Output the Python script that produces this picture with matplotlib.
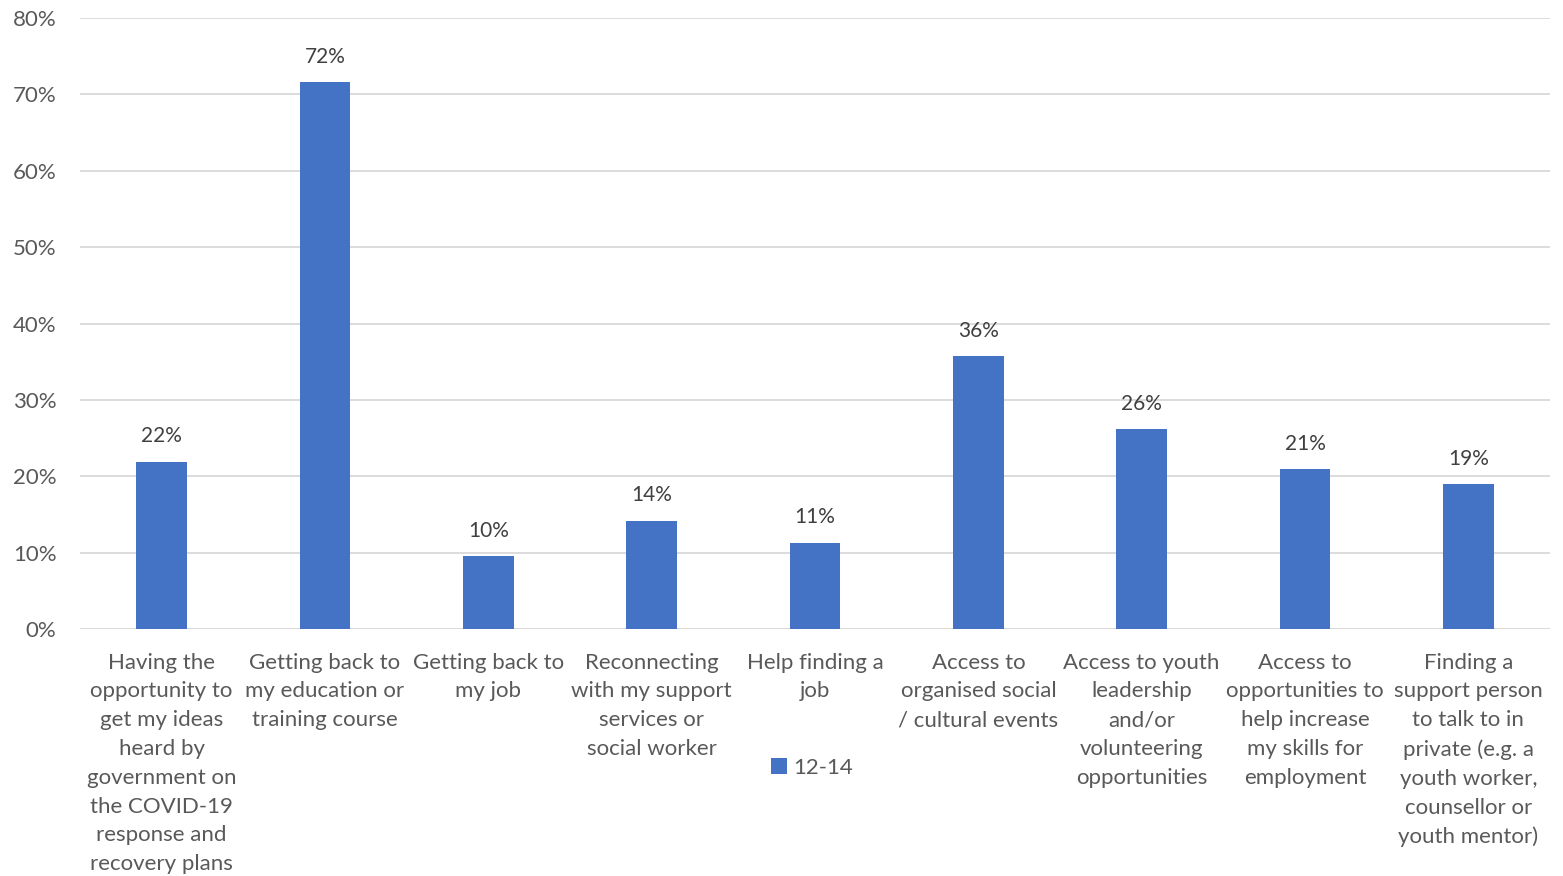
import matplotlib
matplotlib.use("Agg")
import matplotlib.pyplot as plt
from matplotlib.ticker import FuncFormatter, MultipleLocator

categories = [
    "Having the\nopportunity to\nget my ideas\nheard by\ngovernment on\nthe COVID-19\nresponse and\nrecovery plans",
    "Getting back to\nmy education or\ntraining course",
    "Getting back to\nmy job",
    "Reconnecting\nwith my support\nservices or\nsocial worker",
    "Help finding a\njob",
    "Access to\norganised social\n/ cultural events",
    "Access to youth\nleadership\nand/or\nvolunteering\nopportunities",
    "Access to\nopportunities to\nhelp increase\nmy skills for\nemployment",
    "Finding a\nsupport person\nto talk to in\nprivate (e.g. a\nyouth worker,\ncounsellor or\nyouth mentor)",
]
series_name = "12-14"
values = [21.9, 71.6, 9.5, 14.2, 11.3, 35.7, 26.2, 20.9, 19.0]

BAR = "#4472C4"
TXT = "#595959"
GRID = "#D9D9D9"
plt.rcParams["font.family"] = ["Lato", "DejaVu Sans"]

fig = plt.figure(figsize=(15.63, 8.76), dpi=100)
ax = fig.add_axes([80 / 1563, 1 - 629 / 876, 1470 / 1563, 611 / 876])

x = list(range(len(categories)))
bars = ax.bar(x, values, width=0.31, color=BAR, label=series_name, zorder=3)

for rect, v in zip(bars, values):
    ax.annotate(f"{v:.0f}%", (rect.get_x() + rect.get_width() / 2, v),
                xytext=(0, 11), textcoords="offset points",
                ha="center", va="bottom", fontsize=15, color="#404040")

ax.set_xlim(-0.5, len(categories) - 0.5)
ax.set_ylim(0, 80)
ax.yaxis.set_major_locator(MultipleLocator(10))
ax.yaxis.set_major_formatter(FuncFormatter(lambda v, _: f"{v:.0f}%"))
ax.grid(axis="y", color=GRID, linewidth=1.3, zorder=0)
for s in ax.spines.values():
    s.set_visible(False)
ax.axhline(0, color=GRID, linewidth=1.3, zorder=2)

ax.set_xticks(x)
ax.set_xticklabels(categories, fontsize=16, color=TXT, linespacing=1.55)
ax.tick_params(axis="x", length=0, pad=17)
ax.tick_params(axis="y", length=0, pad=17, labelsize=16, labelcolor=TXT)

fig.legend(loc="center", bbox_to_anchor=(812 / 1563, 1 - 768 / 876),
           frameon=False, fontsize=16, labelcolor=TXT,
           handlelength=0.7, handleheight=0.7, handletextpad=0.3)

fig.savefig("out.png", dpi=100)
